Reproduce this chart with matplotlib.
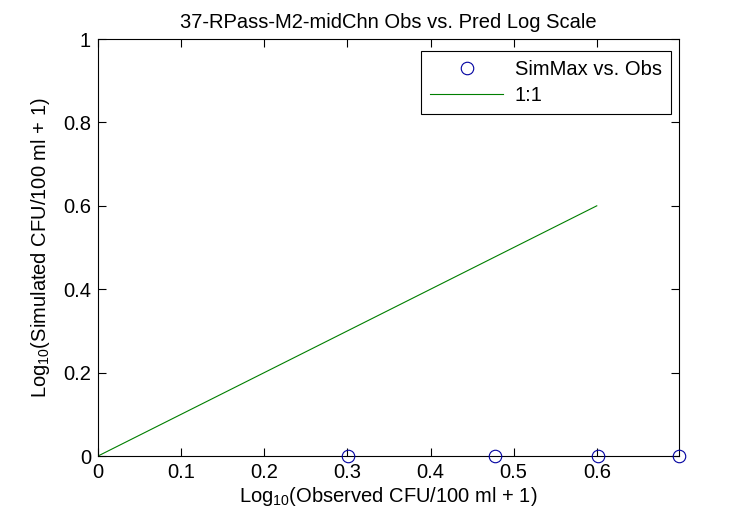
import matplotlib
matplotlib.use('Agg')
import matplotlib.pyplot as plt
import numpy as np

plt.rcParams['font.family'] = ['Liberation Sans', 'DejaVu Sans']
plt.rcParams['mathtext.fontset'] = 'custom'
plt.rcParams['mathtext.rm'] = 'Liberation Sans'

# observed counts (CFU/100 ml) and simulated max values
obs_log = [np.log10(2), np.log10(3), np.log10(4), np.log10(5)]
sim_log = [0, 0, 0, 0]
line_x = [0, 0.6]
line_y = [0, 0.6]
xticks = [0, 0.1, 0.2, 0.3, 0.4, 0.5, 0.6]
yticks = [0, 0.2, 0.4, 0.6, 0.8, 1]

fs = 14.5
fig = plt.figure(figsize=(7.5, 5.25), dpi=100)
ax = fig.add_axes([0.1307, 0.1314, 0.7747, 0.7943])

ax.plot(obs_log, sim_log, 'o', mfc='none', mec='#0000a0', ms=9, mew=0.8,
        label='SimMax vs. Obs', clip_on=False, zorder=3)
ax.plot(line_x, line_y, color='#007f00', lw=0.8, label='1:1')

ax.set_xlim(0, np.log10(5))
ax.set_ylim(0, 1)
ax.set_xticks(xticks)
ax.set_xticklabels(['0', '0.1', '0.2', '0.3', '0.4', '0.5', '0.6'])
ax.set_yticks(yticks)
ax.set_yticklabels(['0', '0.2', '0.4', '0.6', '0.8', '1'])
ax.tick_params(direction='in', top=True, right=True, labelsize=fs, length=6, pad=5)

ax.set_title('37-RPass-M2-midChn Obs vs. Pred Log Scale', fontsize=fs, pad=8)
ax.set_xlabel(r'Log$_{10}$(Observed CFU/100 ml + 1)', fontsize=fs, labelpad=2)
ax.set_ylabel(r'Log$_{10}$(Simulated CFU/100 ml + 1)', fontsize=fs, labelpad=8)

leg = ax.legend(loc='upper right', bbox_to_anchor=(0.986, 0.971), borderaxespad=0,
                fontsize=fs, fancybox=False, framealpha=1, edgecolor='black',
                borderpad=0.45, handlelength=3.6, handletextpad=0.6, labelspacing=0.35)
leg.get_frame().set_linewidth(0.8)

fig.savefig('out.png', dpi=100)
